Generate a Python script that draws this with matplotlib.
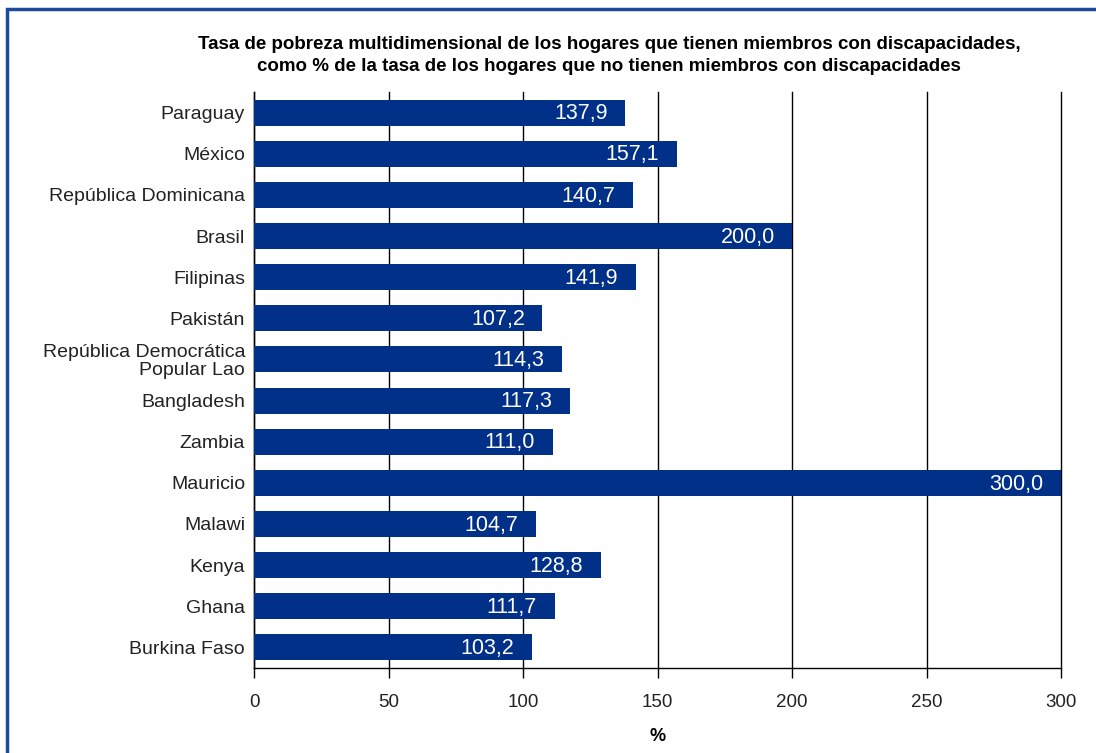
import matplotlib.pyplot as plt
from matplotlib.patches import Rectangle
import numpy as np

plt.rcParams['font.family'] = ['Liberation Sans', 'DejaVu Sans']

paises = ['Paraguay', 'México', 'República Dominicana', 'Brasil', 'Filipinas',
          'Pakistán', 'República Democrática\nPopular Lao', 'Bangladesh', 'Zambia',
          'Mauricio', 'Malawi', 'Kenya', 'Ghana', 'Burkina Faso']
valores = [137.9, 157.1, 140.7, 200.0, 141.9, 107.2, 114.3, 117.3, 111.0,
           300.0, 104.7, 128.8, 111.7, 103.2]
xticks = [0, 50, 100, 150, 200, 250, 300]

titulo = ('Tasa de pobreza multidimensional de los hogares que tienen miembros con discapacidades,\n'
          'como % de la tasa de los hogares que no tienen miembros con discapacidades')

azul = '#003087'

fig = plt.figure(figsize=(10.96, 7.53), dpi=100)
ax = fig.add_axes([0.2318, 0.1129, 0.7364, 0.7649])

y = np.arange(len(paises))
ax.barh(y, valores, height=0.63, color=azul, zorder=3)
for yi, v in zip(y, valores):
    ax.text(v - 6.5, yi + 0.03, f'{v:.1f}'.replace('.', ','), color='white',
            ha='right', va='center', fontsize=15.5, zorder=4)

ax.set_ylim(len(paises) - 0.5, -0.5)
ax.set_xlim(0, 300)
ax.set_yticks(y)
ax.set_yticklabels(paises, fontsize=14, color='#222222', linespacing=1.05)
ax.tick_params(axis='y', length=0, pad=6.5)
ax.set_xticks(xticks)
ax.set_xticklabels([str(t) for t in xticks], fontsize=13.5, color='#222222')
ax.tick_params(axis='x', length=7, width=1, pad=12)
ax.grid(axis='x', color='black', linewidth=1, zorder=1)
for gl in ax.get_xgridlines():
    gl.set_clip_on(False)
for s in ['top', 'right']:
    ax.spines[s].set_visible(False)
ax.spines['left'].set_linewidth(1)
ax.spines['bottom'].set_linewidth(1)
ax.set_xlabel('%', fontsize=13, fontweight='bold', labelpad=12)

fig.text(0.556, 0.926, titulo, ha='center', va='center', fontsize=13.5,
         fontweight='bold', linespacing=1.4)

fig.patches.append(Rectangle((7 / 1096, -0.05), 1.1, (753 - 9) / 753 + 0.05,
                             transform=fig.transFigure, fill=False,
                             edgecolor='#1c4a9c', linewidth=2.5))

fig.savefig('out.png', dpi=100)
